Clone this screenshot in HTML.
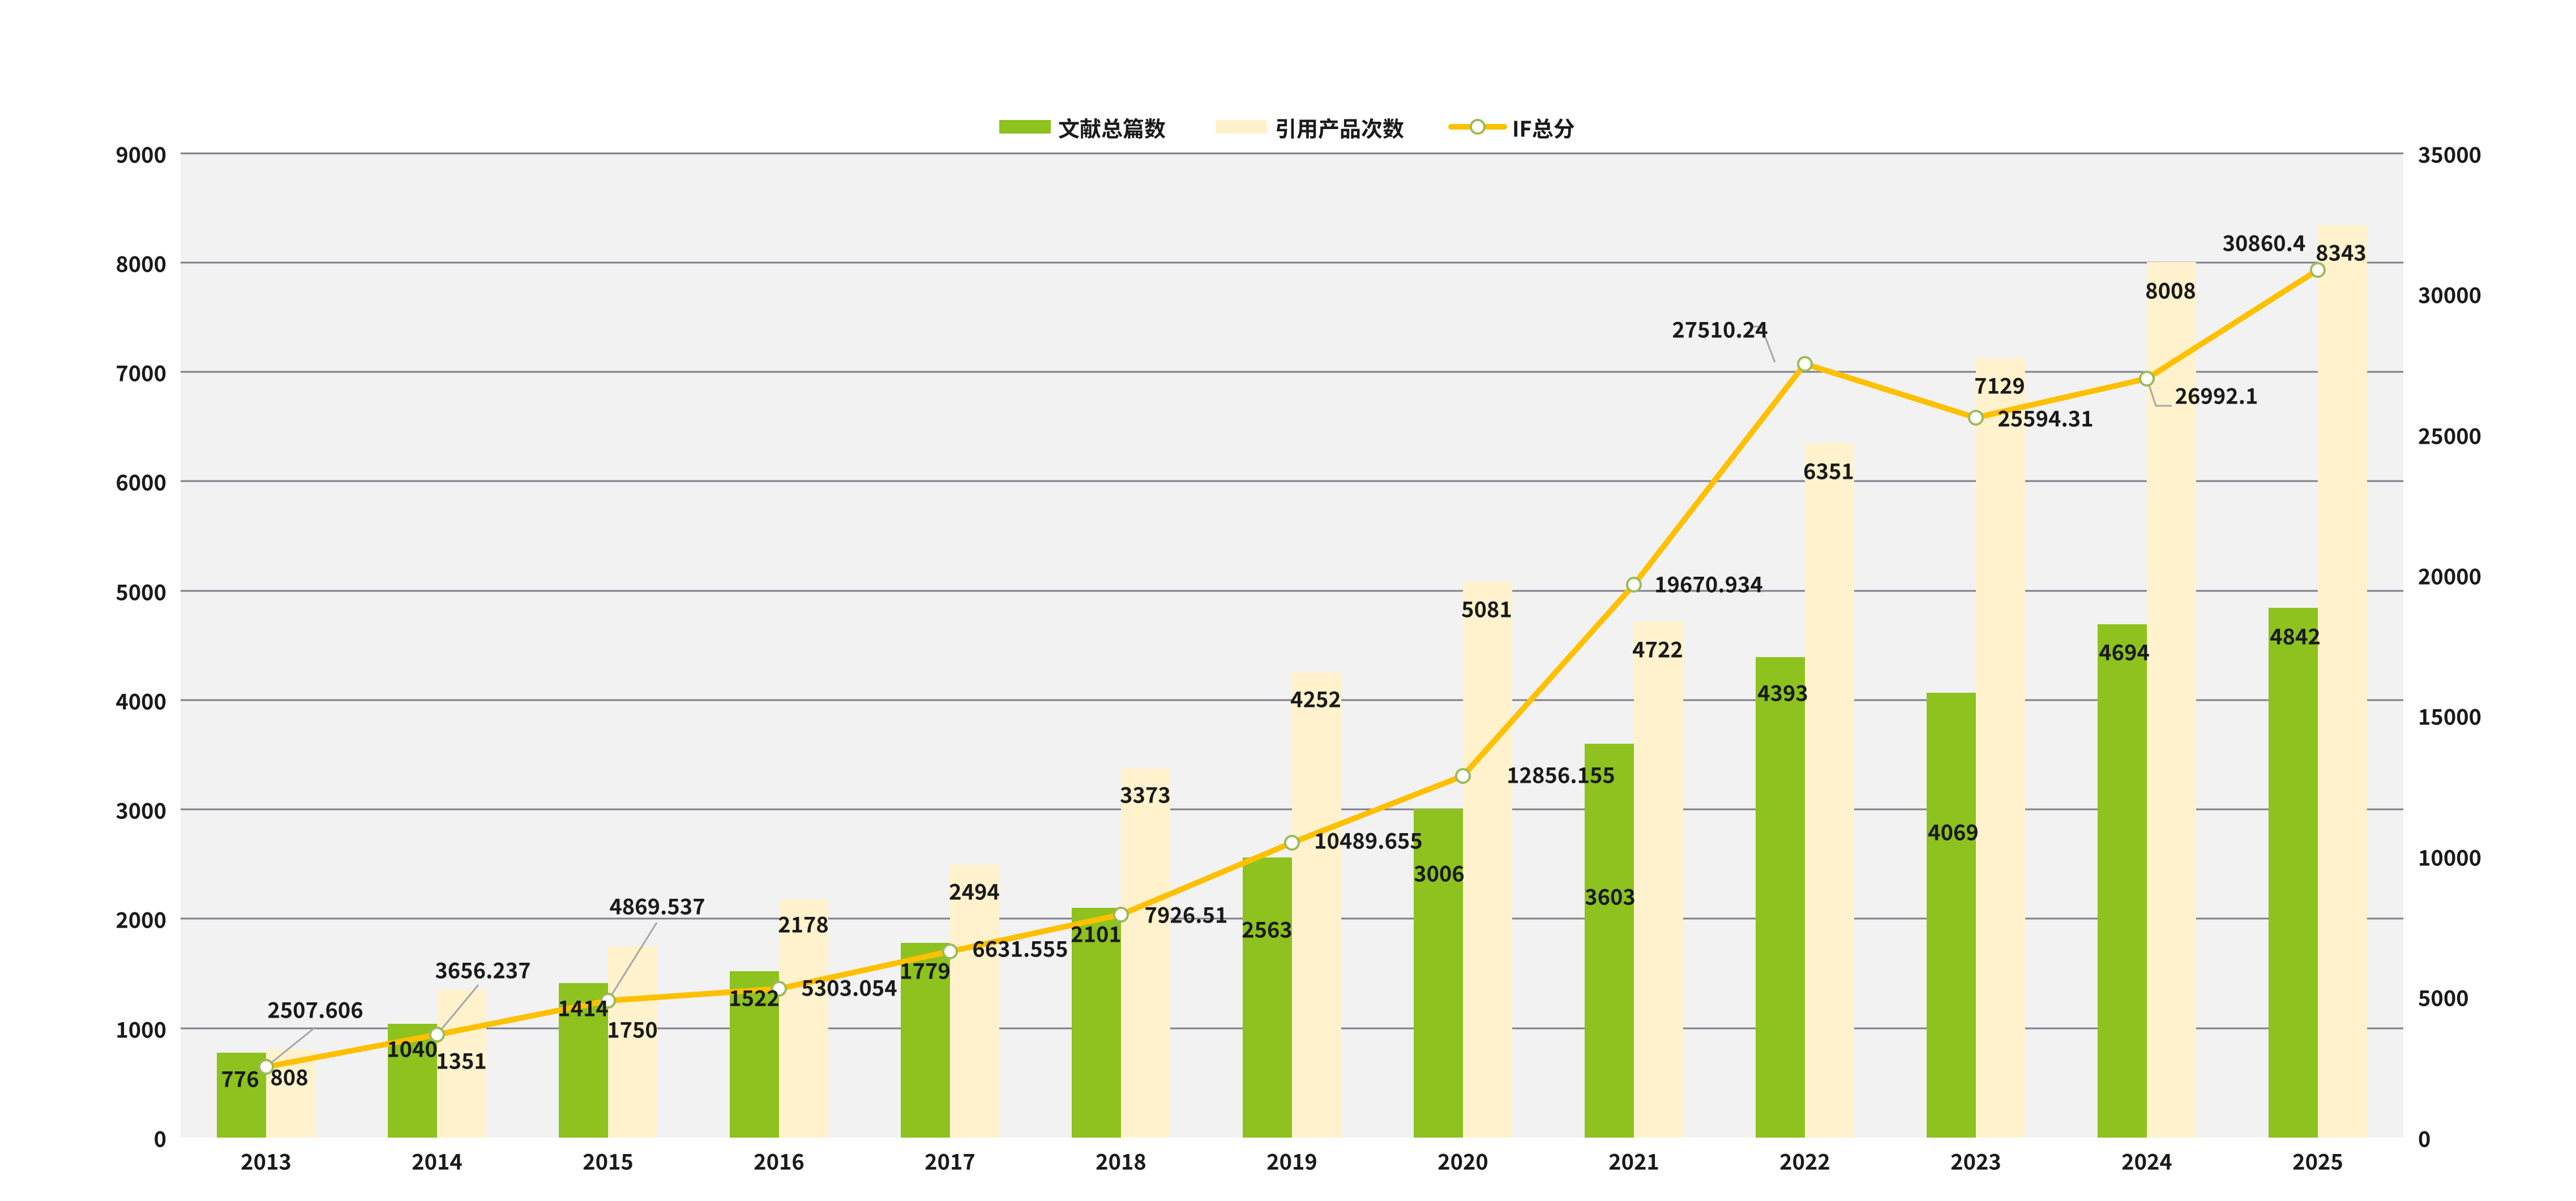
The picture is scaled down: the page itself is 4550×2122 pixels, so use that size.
<!DOCTYPE html>
<html><head><meta charset="utf-8"><style>
html,body{margin:0;padding:0;background:#fff;}
svg{display:block;}
text{font-family:"Noto Sans CJK SC","Liberation Sans",sans-serif;fill:#1a1a1a;font-size:38px;font-weight:700;}
</style></head><body>
<svg width="4550" height="2122" viewBox="0 0 4550 2122" xmlns="http://www.w3.org/2000/svg">
<rect x="319" y="271" width="3926" height="1739" fill="#F2F2F2"/>
<g stroke="#7F7F8C" stroke-width="3">
<line x1="319" x2="4245" y1="271" y2="271"/>
<line x1="319" x2="4245" y1="464" y2="464"/>
<line x1="319" x2="4245" y1="657" y2="657"/>
<line x1="319" x2="4245" y1="850" y2="850"/>
<line x1="319" x2="4245" y1="1044" y2="1044"/>
<line x1="319" x2="4245" y1="1237" y2="1237"/>
<line x1="319" x2="4245" y1="1430" y2="1430"/>
<line x1="319" x2="4245" y1="1623" y2="1623"/>
<line x1="319" x2="4245" y1="1817" y2="1817"/>
</g>
<g fill="#8DC21F">
<rect x="383" y="1860" width="87" height="150"/>
<rect x="685" y="1809" width="87" height="201"/>
<rect x="987" y="1737" width="87" height="273"/>
<rect x="1289" y="1716" width="87" height="294"/>
<rect x="1591" y="1666" width="87" height="344"/>
<rect x="1893" y="1604" width="87" height="406"/>
<rect x="2195" y="1515" width="87" height="495"/>
<rect x="2497" y="1429" width="87" height="581"/>
<rect x="2799" y="1314" width="87" height="696"/>
<rect x="3101" y="1161" width="87" height="849"/>
<rect x="3403" y="1224" width="87" height="786"/>
<rect x="3705" y="1103" width="87" height="907"/>
<rect x="4007" y="1074" width="87" height="936"/>
</g>
<g fill="#FFF2CC">
<rect x="470" y="1854" width="87" height="156"/>
<rect x="772" y="1749" width="87" height="261"/>
<rect x="1074" y="1672" width="87" height="338"/>
<rect x="1376" y="1589" width="87" height="421"/>
<rect x="1678" y="1528" width="87" height="482"/>
<rect x="1980" y="1358" width="87" height="652"/>
<rect x="2282" y="1188" width="87" height="822"/>
<rect x="2584" y="1028" width="87" height="982"/>
<rect x="2886" y="1098" width="87" height="912"/>
<rect x="3188" y="783" width="87" height="1227"/>
<rect x="3490" y="633" width="87" height="1377"/>
<rect x="3792" y="463" width="87" height="1547"/>
<rect x="4094" y="398" width="87" height="1612"/>
</g>
<g stroke="#A6A6A6" stroke-width="3" fill="none">
<polyline points="470,1885 557,1815"/>
<polyline points="772,1828 845,1740"/>
<polyline points="1074,1768 1160,1630"/>
<polyline points="3095,577 3111,577 3135,640"/>
<polyline points="3792,669 3808,717 3836,717"/>
</g>
<polyline fill="none" stroke="#FFC000" stroke-width="10" stroke-linejoin="round" points="470,1885 772,1828 1074,1768 1376,1747 1678,1681 1980,1616 2282,1489 2584,1371 2886,1033 3188,643 3490,738 3792,669 4094,477"/>
<g fill="#fff" stroke="#9BBB59" stroke-width="4">
<circle cx="470" cy="1885" r="12"/><circle cx="772" cy="1828" r="12"/><circle cx="1074" cy="1768" r="12"/>
<circle cx="1376" cy="1747" r="12"/><circle cx="1678" cy="1681" r="12"/><circle cx="1980" cy="1616" r="12"/>
<circle cx="2282" cy="1489" r="12"/><circle cx="2584" cy="1371" r="12"/><circle cx="2886" cy="1033" r="12"/>
<circle cx="3188" cy="643" r="12"/><circle cx="3490" cy="738" r="12"/><circle cx="3792" cy="669" r="12"/>
<circle cx="4094" cy="477" r="12"/>
</g>
<g text-anchor="middle" dominant-baseline="central">
<text x="424" y="1904">776</text><text x="728" y="1851">1040</text><text x="1030" y="1779">1414</text>
<text x="1332" y="1761">1522</text><text x="1634" y="1713">1779</text><text x="1936" y="1648">2101</text>
<text x="2238" y="1640">2563</text><text x="2542" y="1541">3006</text><text x="2844" y="1582">3603</text>
<text x="3149" y="1222">4393</text><text x="3450" y="1468">4069</text><text x="3752" y="1150">4694</text>
<text x="4054" y="1122">4842</text>
<text x="511" y="1901">808</text><text x="815" y="1872">1351</text><text x="1117" y="1817">1750</text>
<text x="1419" y="1631">2178</text><text x="1721" y="1573">2494</text><text x="2023" y="1402">3373</text>
<text x="2324" y="1233">4252</text><text x="2626" y="1074">5081</text><text x="2928" y="1145">4722</text>
<text x="3230" y="830">6351</text><text x="3532" y="679">7129</text><text x="3834" y="511">8008</text>
<text x="4135" y="444">8343</text>
<text x="557" y="1782">2507.606</text><text x="853" y="1712">3656.237</text><text x="1161" y="1599">4869.537</text>
<text x="1500" y="1743">5303.054</text><text x="1802" y="1674">6631.555</text><text x="2095" y="1614">7926.51</text>
<text x="2417" y="1483">10489.655</text><text x="2757" y="1367">12856.155</text><text x="3018" y="1030">19670.934</text>
<text x="3038" y="580">27510.24</text><text x="3613" y="737">25594.31</text><text x="3915" y="697">26992.1</text>
<text x="3999" y="427">30860.4</text>
</g>
<g text-anchor="end" dominant-baseline="central">
<text x="294" y="271">9000</text><text x="294" y="464">8000</text><text x="294" y="657">7000</text>
<text x="294" y="850">6000</text><text x="294" y="1044">5000</text><text x="294" y="1237">4000</text>
<text x="294" y="1430">3000</text><text x="294" y="1623">2000</text><text x="294" y="1817">1000</text>
<text x="294" y="2010">0</text>
</g>
<g text-anchor="start" dominant-baseline="central">
<text x="4271" y="271">35000</text><text x="4271" y="519">30000</text><text x="4271" y="768">25000</text>
<text x="4271" y="1016">20000</text><text x="4271" y="1264">15000</text><text x="4271" y="1513">10000</text>
<text x="4271" y="1761">5000</text><text x="4271" y="2010">0</text>
</g>
<g text-anchor="middle" dominant-baseline="central">
<text x="470" y="2050">2013</text><text x="772" y="2050">2014</text><text x="1074" y="2050">2015</text>
<text x="1376" y="2050">2016</text><text x="1678" y="2050">2017</text><text x="1980" y="2050">2018</text>
<text x="2282" y="2050">2019</text><text x="2584" y="2050">2020</text><text x="2886" y="2050">2021</text>
<text x="3188" y="2050">2022</text><text x="3490" y="2050">2023</text><text x="3792" y="2050">2024</text>
<text x="4094" y="2050">2025</text>
</g>
<rect x="1765" y="212" width="91" height="24" fill="#8DC21F"/>
<text x="1869" y="225" dominant-baseline="central">文献总篇数</text>
<rect x="2147" y="212" width="91" height="24" fill="#FFF2CC"/>
<text x="2252" y="225" dominant-baseline="central">引用产品次数</text>
<line x1="2563" y1="224" x2="2657" y2="224" stroke="#FFC000" stroke-width="10" stroke-linecap="round"/>
<circle cx="2610" cy="224" r="12" fill="#fff" stroke="#9BBB59" stroke-width="4"/>
<text x="2671" y="225" dominant-baseline="central">IF总分</text>
</svg>
</body></html>
